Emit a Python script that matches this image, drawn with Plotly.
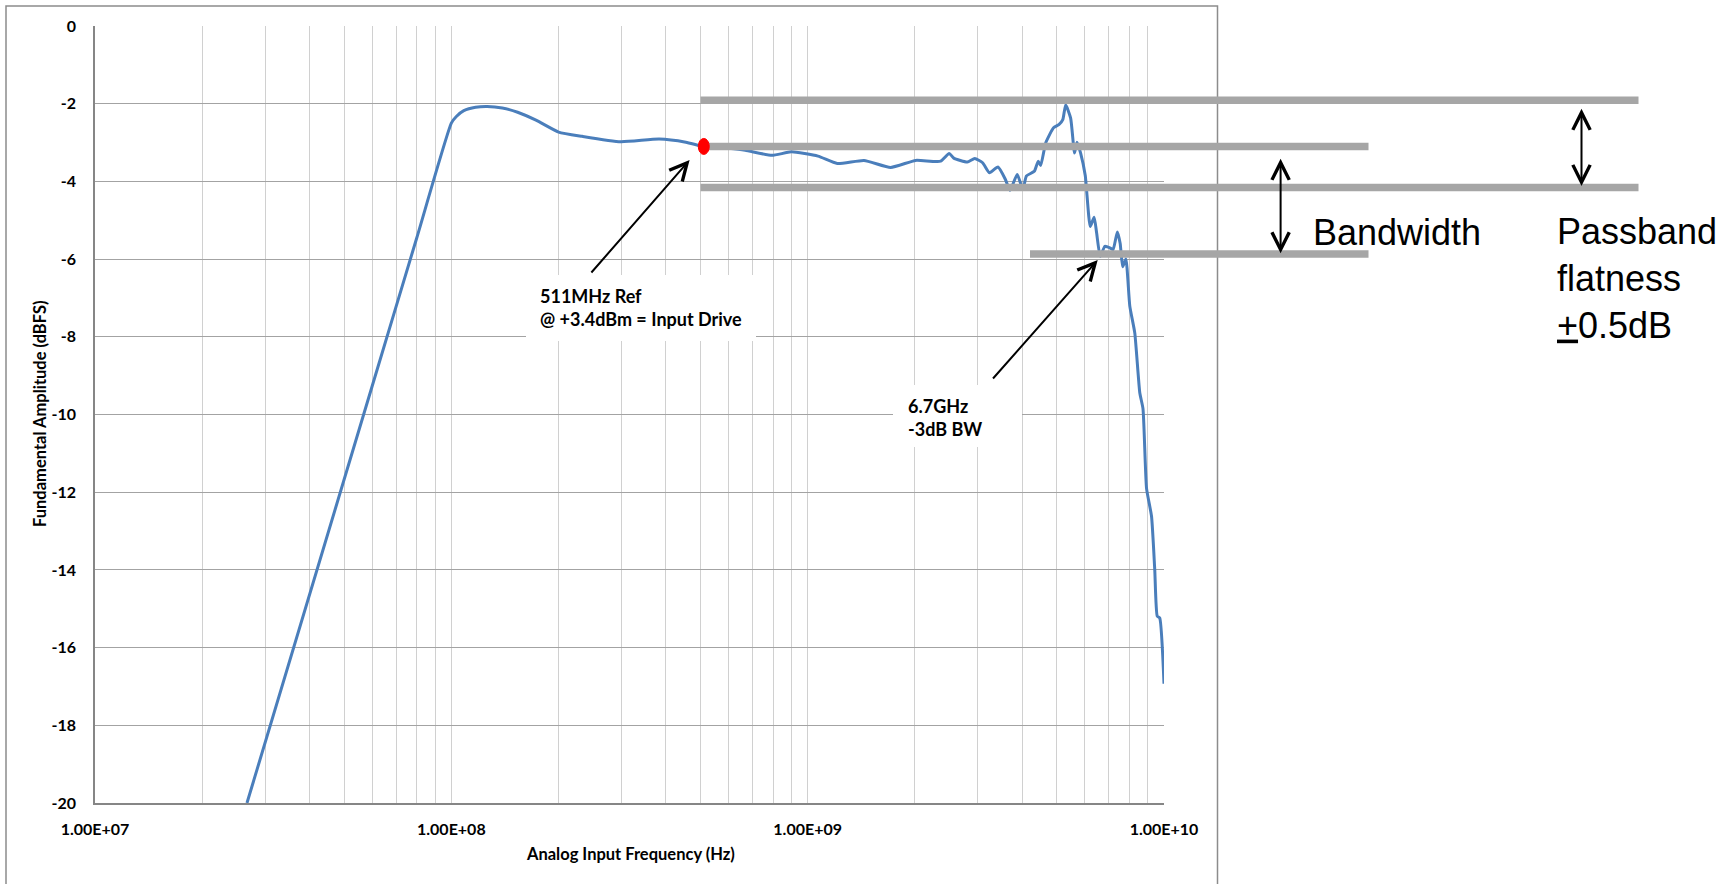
import numpy as np
import plotly.graph_objects as go

# ---- measured response: fundamental amplitude vs analog input frequency ----
freq_mhz = [
    26.7, 60, 80, 100, 103.3, 108.4, 117, 126, 139, 153.5, 173.4, 200, 233, 299,
    383, 455, 511, 600, 668, 794, 900, 1069, 1211, 1439, 1710, 2009, 2360, 2495,
    2570, 2805, 2944, 3097, 3236, 3420, 3589, 3698, 3873, 4018, 4111, 4325, 4436,
    4508, 4656, 4898, 5070, 5200, 5297, 5470, 5610, 5700, 5834, 6012, 6209, 6368,
    6471, 6622, 6823, 7047, 7194, 7396, 7534, 7656, 7816, 8017, 8279, 8551, 8730,
    8933, 9226, 9419, 9572, 9727, 10000,
]
amp_dbfs = [
    -20.0, -9.26, -5.45, -2.50, -2.33, -2.18, -2.09, -2.07, -2.11, -2.22, -2.43, -2.73,
    -2.84, -2.98, -2.91, -2.99, -3.10, -3.15, -3.20, -3.33, -3.24, -3.35, -3.54,
    -3.46, -3.64, -3.46, -3.48, -3.28, -3.40, -3.50, -3.41, -3.52, -3.78, -3.63,
    -3.95, -4.23, -3.82, -4.21, -3.86, -3.74, -3.48, -3.59, -3.01, -2.62, -2.54,
    -2.41, -2.03, -2.37, -3.27, -2.99, -3.27, -3.85, -5.16, -4.92, -5.33, -5.93,
    -5.67, -5.71, -5.76, -5.30, -5.60, -6.20, -6.00, -7.21, -7.90, -9.44, -9.85,
    -11.90, -12.62, -13.99, -15.19, -15.24, -16.93,
]

# reference point
ref_freq_mhz = 511
ref_amp_dbfs = -3.10

# guide levels (dBFS)
flat_hi_db = -1.91
ref_level_db = -3.10
flat_lo_db = -4.16
bw_level_db = -5.87

# axis ticks
x_decades = [7, 8, 9, 10]
x_tick_labels = ["1.00E+07", "1.00E+08", "1.00E+09", "1.00E+10"]
y_ticks = list(range(0, -21, -2))
y_tick_labels = [str(v) for v in y_ticks]

# ---- page geometry (pixels) ----
W, H = 1727, 884
L, R, T, B = 95, 563, 26, 81
PW, PH = W - L - R, H - T - B


def px_x(p):
    return (p - L) / PW


def px_y(p):
    return (T + PH - p) / PH


def log_x_to_paper(f_hz):
    lo, hi = x_decades[0], x_decades[-1]
    return (np.log10(f_hz) - lo) / (hi - lo)


freq_hz = [f * 1e6 for f in freq_mhz]

# gridlines at 1..9 x each decade, labels only at decades
x_tickvals, x_ticktext = [], []
for d, lab in zip(x_decades, x_tick_labels):
    x_tickvals.append(10 ** d)
    x_ticktext.append(lab)
    if d < x_decades[-1]:
        for k in range(2, 10):
            x_tickvals.append(k * 10 ** d)
            x_ticktext.append("")

LABEL_FONT = "Lato, 'Open Sans', sans-serif"
ARIAL = "'Liberation Sans', Arial, sans-serif"

fig = go.Figure()
fig.add_trace(go.Scatter(
    x=freq_hz, y=amp_dbfs, mode="lines",
    line=dict(color="#4a7ebb", width=3, shape="spline", smoothing=0.5),
    hoverinfo="skip", showlegend=False,
))

shapes = []
# outer chart frame
shapes.append(dict(type="rect", xref="paper", yref="paper",
                   x0=px_x(6), x1=px_x(1217.5), y0=px_y(960), y1=px_y(6),
                   line=dict(color="#8c8c8c", width=1.5), fillcolor="rgba(0,0,0,0)",
                   layer="above"))
# white label backgrounds
shapes.append(dict(type="rect", xref="paper", yref="paper",
                   x0=px_x(526), x1=px_x(756), y0=px_y(341), y1=px_y(275),
                   line=dict(width=0), fillcolor="white", layer="above"))
shapes.append(dict(type="rect", xref="paper", yref="paper",
                   x0=px_x(893), x1=px_x(1022), y0=px_y(447), y1=px_y(385),
                   line=dict(width=0), fillcolor="white", layer="above"))
# grey guide bars
BAR = dict(color="#a6a6a6", width=7.5)
for level, x0, x1 in [
    (flat_hi_db, 700.5, 1638.5),
    (ref_level_db, 700.5, 1368.5),
    (flat_lo_db, 700.5, 1638.5),
    (bw_level_db, 1030, 1368.5),
]:
    shapes.append(dict(type="line", xref="paper", yref="y",
                       x0=px_x(x0), x1=px_x(x1), y0=level, y1=level,
                       line=BAR, layer="above"))
# reference marker: red oval
shapes.append(dict(type="circle", xref="paper", yref="y",
                   xsizemode="pixel", ysizemode="pixel",
                   xanchor=log_x_to_paper(ref_freq_mhz * 1e6), yanchor=ref_amp_dbfs,
                   x0=-5.5, x1=5.5, y0=-8, y1=8,
                   fillcolor="#ff0000", line=dict(color="#ff0000", width=1),
                   layer="above"))

ARROW = dict(showarrow=True, arrowhead=5, arrowsize=1.7, arrowwidth=2,
             arrowcolor="black", text="", standoff=0, startstandoff=0)

annotations = [
    # pointer to the reference marker
    dict(xref="paper", yref="paper", x=px_x(689.6), y=px_y(160),
         axref="pixel", ayref="pixel", ax=-99.5, ay=114, **ARROW),
    # pointer to the -3 dB point
    dict(xref="paper", yref="paper", x=px_x(1097.7), y=px_y(260),
         axref="pixel", ayref="pixel", ax=-106, ay=120, **ARROW),
    # bandwidth span
    dict(xref="paper", yref="paper", x=px_x(1280.6), y=px_y(253.3),
         ax=0, ay=-96, arrowside="end+start", **ARROW),
    # flatness span
    dict(xref="paper", yref="paper", x=px_x(1581.5), y=px_y(186),
         ax=0, ay=-78.7, arrowside="end+start", **ARROW),
    # text labels
    dict(xref="paper", yref="paper", x=px_x(538), y=px_y(307), xanchor="left",
         yanchor="middle", align="left", showarrow=False,
         text="511MHz Ref<br>@ +3.4dBm = Input Drive",
         font=dict(family=LABEL_FONT, size=18, color="black", weight="bold")),
    dict(xref="paper", yref="paper", x=px_x(906), y=px_y(418), xanchor="left",
         yanchor="middle", align="left", showarrow=False,
         text="6.7GHz<br>-3dB BW",
         font=dict(family=LABEL_FONT, size=18, color="black", weight="bold")),
    dict(xref="paper", yref="paper", x=px_x(1311), y=px_y(232), xanchor="left",
         yanchor="middle", align="left", showarrow=False, text="Bandwidth",
         font=dict(family=ARIAL, size=36, color="black")),
    dict(xref="paper", yref="paper", x=px_x(1555), y=px_y(278), xanchor="left",
         yanchor="middle", align="left", showarrow=False,
         text="Passband<br>flatness<br><u>+</u>0.5dB",
         font=dict(family=ARIAL, size=36, color="black")),
    # axis titles
    dict(xref="paper", yref="paper", x=px_x(630), y=px_y(854), xanchor="center",
         yanchor="middle", showarrow=False, text="Analog Input Frequency (Hz)",
         font=dict(family=LABEL_FONT, size=16.5, color="black", weight="bold")),
    dict(xref="paper", yref="paper", x=px_x(40), y=px_y(414), xanchor="center",
         yanchor="middle", showarrow=False, textangle=-90,
         text="Fundamental Amplitude (dBFS)",
         font=dict(family=LABEL_FONT, size=16.5, color="black", weight="bold")),
]

TICK_FONT = dict(family=LABEL_FONT, size=16, color="black", weight="bold")

fig.update_layout(
    width=W, height=H,
    margin=dict(l=L, r=R, t=T, b=B, pad=0),
    paper_bgcolor="white", plot_bgcolor="white",
    shapes=shapes, annotations=annotations,
    showlegend=False,
    xaxis=dict(
        type="log", range=[x_decades[0], x_decades[-1]],
        tickmode="array", tickvals=x_tickvals, ticktext=x_ticktext,
        showgrid=True, gridcolor="#d0d0d0", gridwidth=1,
        showline=True, linecolor="#868686", linewidth=1.5, mirror=False,
        zeroline=False, ticks="", ticklabelstandoff=11,
        tickfont=TICK_FONT,
    ),
    yaxis=dict(
        range=[y_ticks[-1], y_ticks[0]],
        tickmode="array", tickvals=y_ticks, ticktext=y_tick_labels,
        showgrid=True, gridcolor="#a3a3a3", gridwidth=1,
        showline=True, linecolor="#868686", linewidth=1.5, mirror=False,
        zeroline=False, ticks="", ticklabelstandoff=14,
        tickfont=TICK_FONT,
    ),
)

fig.write_html("out.html")
